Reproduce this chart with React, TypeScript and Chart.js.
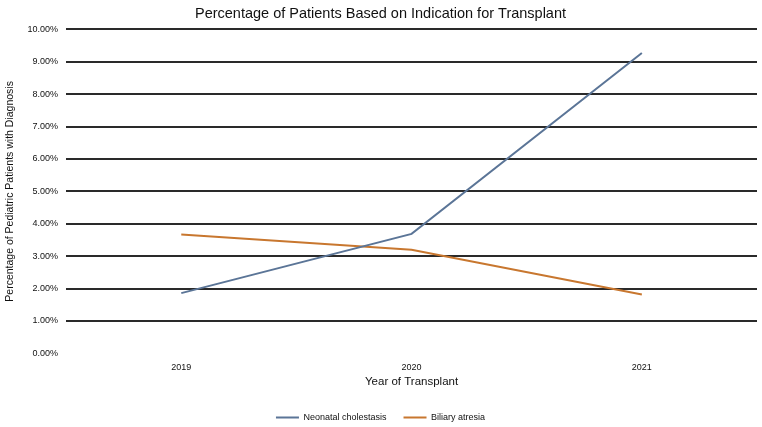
import React, { useEffect, useRef } from "react";
import { Chart, registerables } from "chart.js";

Chart.register(...registerables);

const years = ["2019", "2020", "2021"];
const neonatalCholestasis = [1.86, 3.69, 9.27];
const biliaryAtresia = [3.67, 3.2, 1.82];
const yMin = 0;
const yMax = 10;
const yStep = 1;

const FONT = "'Liberation Sans Narrow', 'Liberation Sans', Arial, sans-serif";

export default function App() {
  const canvasRef = useRef<HTMLCanvasElement | null>(null);

  useEffect(() => {
    document.body.style.margin = "0";
    const canvas = canvasRef.current;
    if (!canvas) return;
    const chart = new Chart(canvas, {
      type: "line",
      data: {
        labels: years,
        datasets: [
          {
            label: "Neonatal cholestasis",
            data: neonatalCholestasis,
            borderColor: "#5b7597",
            backgroundColor: "#5b7597",
            borderWidth: 2,
            pointRadius: 0,
            tension: 0,
          },
          {
            label: "Biliary atresia",
            data: biliaryAtresia,
            borderColor: "#c8772f",
            backgroundColor: "#c8772f",
            borderWidth: 2,
            pointRadius: 0,
            tension: 0,
          },
        ],
      },
      options: {
        animation: false,
        responsive: false,
        maintainAspectRatio: false,
        layout: { padding: { top: 5, right: 5, left: 4, bottom: -5 } },
        plugins: {
          title: {
            display: true,
            text: "Percentage of Patients Based on Indication for Transplant",
            color: "#111",
            font: { family: FONT, size: 14.5, weight: "normal" },
            padding: { top: 0, bottom: 7 },
          },
          legend: {
            position: "bottom",
            labels: {
              color: "#111",
              font: { family: FONT, size: 9 },
              boxWidth: 23,
              boxHeight: 0,
              padding: 17,
            },
          },
          tooltip: { enabled: false },
        },
        scales: {
          x: {
            offset: true,
            grid: { display: false, drawTicks: false },
            border: { display: false },
            ticks: {
              color: "#111",
              font: { family: FONT, size: 9 },
              padding: 9,
              maxRotation: 0,
            },
            title: {
              display: true,
              text: "Year of Transplant",
              color: "#111",
              font: { family: FONT, size: 11.5 },
              padding: { top: -7, bottom: 7 },
            },
          },
          y: {
            min: yMin,
            max: yMax,
            grid: {
              color: (ctx: any) => (ctx.tick && ctx.tick.value === 0 ? "rgba(0,0,0,0)" : "#2a2a2a"),
              lineWidth: 2,
              drawTicks: false,
            },
            border: { display: false },
            ticks: {
              stepSize: yStep,
              color: "#111",
              font: { family: FONT, size: 9 },
              padding: 8,
              callback: (v: any) => Number(v).toFixed(2) + "%",
            },
            title: {
              display: true,
              text: "Percentage of Pediatric Patients with Diagnosis",
              color: "#111",
              font: { family: FONT, size: 10.5 },
              padding: { top: 0, bottom: 3 },
            },
          },
        },
      },
    });
    return () => chart.destroy();
  }, []);

  return (
    <div style={{ width: 762, height: 427, background: "#fff" }}>
      <canvas ref={canvasRef} width={762} height={427} />
    </div>
  );
}
